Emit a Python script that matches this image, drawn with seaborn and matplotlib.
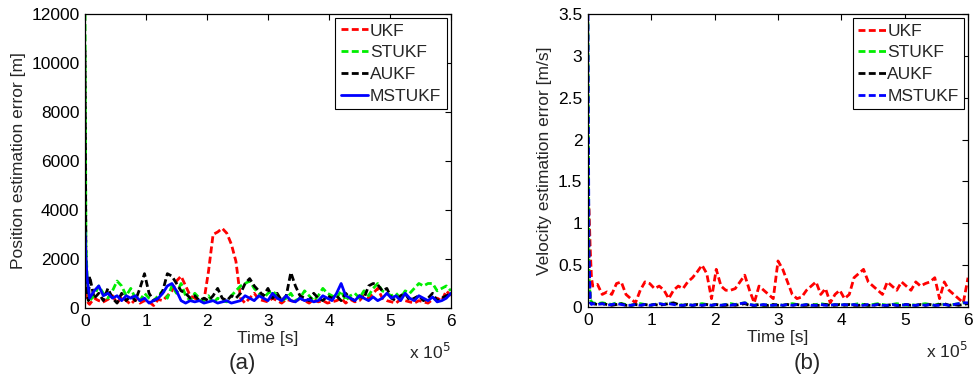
import numpy as np
import pandas as pd
import matplotlib
matplotlib.use("Agg")
import matplotlib.pyplot as plt
import seaborn as sns
from matplotlib.ticker import FuncFormatter

# time axis [s]: a few dense samples at start, then every 7500 s
time_s = [0, 1500, 3500, 5500] + list(range(7500, 600001, 7500))

filters = ["UKF", "STUKF", "AUKF", "MSTUKF"]
colors = ["#ff0000", "#00ee00", "#000000", "#0000ff"]

# position estimation error [m]
pos_ukf = [1500, 800, 300, 200,
           150, 400, 300, 250, 350, 500, 200, 450, 300, 150, 350, 200, 300,
           250, 100, 350, 300, 500, 700, 1100, 1300, 900, 500, 400, 300, 300,
           1500, 3000, 3100, 3250, 3050, 2600, 1900, 400, 200, 400, 600, 350, 300, 250,
           400, 300, 200, 350, 300, 250, 400, 300, 200, 350, 250, 300, 200,
           250, 300, 400, 200, 350, 250, 300, 500, 400, 600, 800, 400, 300,
           250, 200, 350, 300, 250, 200, 300, 250, 200, 350, 400, 300, 700, 500]
pos_stukf = [12000, 2600, 1200, 700,
             300, 500, 900, 600, 400, 700, 1100, 900, 500, 800, 400, 300, 600,
             400, 300, 500, 700, 400, 900, 600, 1000, 500, 300, 600, 400, 300,
             500, 200, 400, 300, 250, 500, 700, 900, 1000, 1100, 800, 600, 400, 600,
             700, 500, 300, 400, 600, 300, 400, 700, 500, 300, 500, 800, 600,
             500, 400, 700, 300, 500, 600, 400, 700, 500, 800, 1000, 700, 600,
             500, 600, 400, 700, 600, 800, 1000, 900, 1000, 1000, 700, 800, 900, 700]
pos_aukf = [10500, 1500, 500, 300,
            1300, 400, 600, 300, 800, 400, 200, 600, 300, 500, 300, 800, 1400,
            600, 300, 400, 700, 1400, 1300, 1000, 700, 600, 400, 500, 300, 400,
            300, 500, 800, 400, 300, 500, 400, 600, 1000, 1200, 900, 700, 500, 800,
            400, 600, 300, 500, 1450, 900, 500, 400, 300, 600, 400, 300, 500,
            400, 500, 300, 600, 400, 300, 500, 400, 900, 1000, 950, 700, 800,
            400, 300, 500, 600, 300, 400, 500, 300, 400, 600, 300, 400, 500, 600]
pos_mstukf = [3100, 2000, 1200, 800,
              400, 700, 900, 500, 600, 400, 500, 300, 500, 400, 500, 300, 400,
              200, 300, 400, 600, 900, 1000, 700, 300, 200, 300, 250, 300, 200,
              250, 300, 200, 250, 300, 200, 250, 300, 500, 400, 300, 500, 400, 300,
              600, 400, 300, 500, 300, 250, 400, 300, 350, 250, 300, 500, 400,
              300, 600, 1000, 500, 400, 300, 500, 400, 300, 450, 300, 400, 600,
              400, 500, 300, 600, 400, 300, 500, 400, 300, 450, 250, 300, 400, 600]

# velocity estimation error [m/s]
vel_ukf = [1.3, 1.2, 0.7, 0.35,
           0.25, 0.27, 0.15, 0.18, 0.15, 0.28, 0.3, 0.15, 0.1, 0.05, 0.2, 0.3, 0.28,
           0.22, 0.25, 0.2, 0.1, 0.2, 0.25, 0.22, 0.3, 0.35, 0.42, 0.5, 0.4, 0.1,
           0.45, 0.25, 0.2, 0.2, 0.22, 0.3, 0.38, 0.2, 0.05, 0.25, 0.2, 0.15, 0.1, 0.55,
           0.45, 0.3, 0.15, 0.1, 0.12, 0.2, 0.25, 0.3, 0.15, 0.22, 0.05, 0.15, 0.2,
           0.1, 0.15, 0.35, 0.4, 0.45, 0.3, 0.25, 0.2, 0.15, 0.3, 0.25, 0.2, 0.3,
           0.25, 0.2, 0.3, 0.25, 0.28, 0.3, 0.35, 0.1, 0.3, 0.2, 0.15, 0.1, 0.05, 0.35]
vel_stukf = [3.4, 0.4, 0.1, 0.06,
             0.05, 0.04, 0.05, 0.04, 0.03, 0.05, 0.04, 0.03, 0.02, 0.03, 0.04, 0.03, 0.02,
             0.03, 0.04, 0.03, 0.05, 0.04, 0.03, 0.02, 0.03, 0.02, 0.03, 0.04, 0.03, 0.02,
             0.03, 0.02, 0.03, 0.04, 0.03, 0.04, 0.05, 0.03, 0.02, 0.03, 0.02, 0.03, 0.02, 0.03,
             0.02, 0.03, 0.04, 0.03, 0.02, 0.03, 0.02, 0.03, 0.04, 0.03, 0.02, 0.03, 0.02,
             0.03, 0.02, 0.03, 0.04, 0.03, 0.02, 0.03, 0.04, 0.03, 0.02, 0.03, 0.04, 0.03,
             0.02, 0.03, 0.02, 0.03, 0.04, 0.03, 0.02, 0.04, 0.03, 0.02, 0.03, 0.04, 0.05, 0.04]
vel_aukf = [1.9, 0.5, 0.08, 0.05,
            0.04, 0.03, 0.04, 0.03, 0.02, 0.03, 0.04, 0.02, 0.02, 0.03, 0.02, 0.03, 0.02,
            0.03, 0.02, 0.03, 0.04, 0.05, 0.03, 0.02, 0.03, 0.02, 0.03, 0.02, 0.03, 0.02,
            0.03, 0.02, 0.02, 0.03, 0.02, 0.03, 0.04, 0.02, 0.02, 0.03, 0.02, 0.02, 0.03, 0.02,
            0.02, 0.03, 0.02, 0.03, 0.02, 0.02, 0.03, 0.02, 0.02, 0.03, 0.02, 0.02, 0.03,
            0.02, 0.03, 0.02, 0.02, 0.03, 0.02, 0.02, 0.03, 0.02, 0.02, 0.03, 0.02, 0.02,
            0.03, 0.02, 0.02, 0.03, 0.02, 0.03, 0.02, 0.03, 0.04, 0.02, 0.03, 0.02, 0.03, 0.04]
vel_mstukf = [3.5, 0.7, 0.05, 0.03,
              0.04, 0.03, 0.04, 0.02, 0.03, 0.04, 0.03, 0.02, 0.02, 0.03, 0.02, 0.03, 0.02,
              0.03, 0.04, 0.03, 0.04, 0.03, 0.02, 0.02, 0.03, 0.02, 0.03, 0.02, 0.03, 0.02,
              0.03, 0.02, 0.03, 0.02, 0.03, 0.04, 0.05, 0.03, 0.02, 0.02, 0.03, 0.02, 0.02, 0.03,
              0.02, 0.03, 0.02, 0.03, 0.02, 0.03, 0.02, 0.02, 0.03, 0.02, 0.02, 0.03, 0.02,
              0.03, 0.02, 0.03, 0.02, 0.02, 0.03, 0.02, 0.03, 0.02, 0.02, 0.03, 0.02, 0.02,
              0.03, 0.02, 0.02, 0.03, 0.02, 0.03, 0.02, 0.02, 0.03, 0.02, 0.03, 0.04, 0.05, 0.05]

sns.set_style("white")
plt.rcParams['font.family'] = ['Liberation Sans', 'DejaVu Sans']
plt.rcParams['font.size'] = 12.5

fig = plt.figure(figsize=(9.73, 3.85), dpi=100)
ax1 = fig.add_axes([0.0874, 0.2, 0.376, 0.764])
ax2 = fig.add_axes([0.6043, 0.2026, 0.3906, 0.761])

dash = (0, (2.5, 1.2))
pos_series = [pos_ukf, pos_stukf, pos_aukf, pos_mstukf]
vel_series = [vel_ukf, vel_stukf, vel_aukf, vel_mstukf]
pos_styles = [dash, dash, dash, '-']

for name, col, vals, ls in zip(filters, colors, pos_series, pos_styles):
    sns.lineplot(x=time_s, y=vals, ax=ax1, color=col, linestyle=ls,
                 linewidth=2.0, label=name, sort=False)
for name, col, vals in zip(filters, colors, vel_series):
    sns.lineplot(x=time_s, y=vals, ax=ax2, color=col, linestyle=dash,
                 linewidth=2.0, label=name, sort=False)

ax1.set_ylim(0, 12000)
ax1.set_yticks(range(0, 12001, 2000))
ax1.set_ylabel("Position estimation error [m]")
ax2.set_ylim(0, 3.5)
ax2.set_yticks(np.arange(0, 3.51, 0.5))
ax2.set_ylabel("Velocity estimation error [m/s]")

for ax, tag, tx in [(ax1, "(a)", 0.2487), (ax2, "(b)", 0.8294)]:
    ax.set_xlim(0, 600000)
    ax.set_xticks(range(0, 600001, 100000))
    ax.xaxis.set_major_formatter(FuncFormatter(lambda v, p: "%g" % (v / 1e5)))
    ax.yaxis.set_major_formatter(FuncFormatter(lambda v, p: "%g" % v))
    ax.set_xlabel("Time [s]", labelpad=2)
    ax.tick_params(direction='in', length=4, width=0.8, top=True, right=True,
                   colors='black', labelsize=12.5, pad=4)
    for s in ax.spines.values():
        s.set_color('black')
        s.set_linewidth(0.9)
    ax.text(1.0, -0.115, "x 10$^{5}$", transform=ax.transAxes, ha='right',
            va='top', fontsize=12.5)
    leg = ax.legend(loc='upper right', fontsize=12.5, frameon=True, fancybox=False,
                    framealpha=1, edgecolor='black', borderaxespad=0.25,
                    handlelength=1.6, handletextpad=0.1, labelspacing=0.38,
                    borderpad=0.3)
    leg.get_frame().set_linewidth(0.8)
    fig.text(tx, 0.057, tag, ha='center', va='center', fontsize=16)

fig.savefig("out.png", dpi=100)
